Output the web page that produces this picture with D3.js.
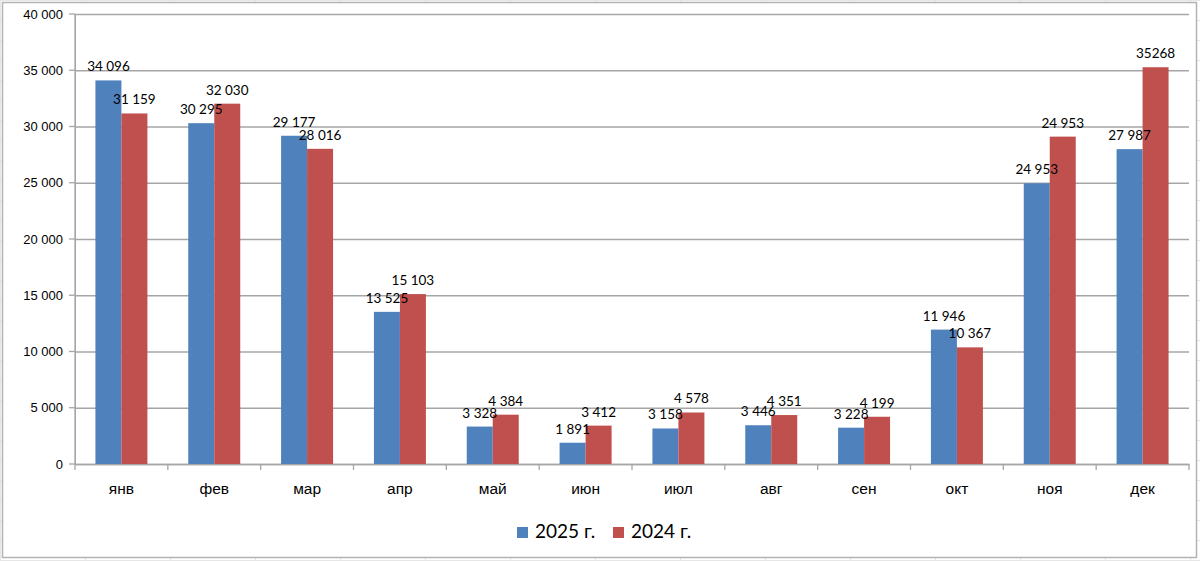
<!DOCTYPE html>
<html>
<head>
<meta charset="utf-8">
<script src="https://cdn.jsdelivr.net/npm/d3@7"></script>
<style>
  body { margin: 0; background: #fff; }
  svg { display: block; font-family: Lato, "Open Sans", sans-serif; }
  .axis path, .axis line { stroke: #a6a6a6; }
  .axis text { fill: #000; font-size: 13px; }
</style>
</head>
<body>
<div id="chart"></div>
<script>
// data
var months = ["янв","фев","мар","апр","май","июн","июл","авг","сен","окт","ноя","дек"];
var series = ["2025 г.", "2024 г."];
var v2025 = [34096, 30295, 29177, 13525, 3328, 1891, 3158, 3446, 3228, 11946, 24953, 27987];
var v2024 = [31159, 32030, 28016, 15103, 4384, 3412, 4578, 4351, 4199, 10367, 29100, 35268];
// data labels as printed on the chart
var lab2025 = ["34 096","30 295","29 177","13 525","3 328","1 891","3 158","3 446","3 228","11 946","24 953","27 987"];
var lab2024 = ["31 159","32 030","28 016","15 103","4 384","3 412","4 578","4 351","4 199","10 367","24 953","35268"];
var yTicks = [0, 5000, 10000, 15000, 20000, 25000, 30000, 35000, 40000];
var colors = ["#4f81bd", "#c0504d"];

var W = 1200, H = 561;
var margin = {t: 14, r: 11, b: 97, l: 75};
var width = W - margin.l - margin.r,
    height = H - margin.t - margin.b;

var svg = d3.select('#chart').append('svg')
    .attr('width', W).attr('height', H);

// faint spreadsheet grid behind the chart
var bg = svg.append('g').attr('stroke', '#e6e6e6').attr('stroke-width', 1);
d3.range(0, W, 85).forEach(function(x){
  bg.append('line').attr('x1', x + 0.5).attr('x2', x + 0.5).attr('y1', 0).attr('y2', H);
});
d3.range(0, H, 20).forEach(function(y){
  bg.append('line').attr('x1', 0).attr('x2', W).attr('y1', y + 0.5).attr('y2', y + 0.5);
});

// chart area frame
svg.append('rect').attr('x', 2.5).attr('y', 2.5).attr('width', 1194).attr('height', 555)
    .attr('fill', '#fff').attr('stroke', '#b3b3b3').attr('stroke-width', 1.5);

var g = svg.append('g').attr('transform', 'translate(' + margin.l + ',' + margin.t + ')');

var x0 = d3.scaleBand().domain(months).range([0, width]).paddingInner(0).paddingOuter(0);
var pairW = x0.bandwidth() * 0.56;
var x1 = d3.scaleBand().domain([0, 1]).range([0, pairW]);
var y = d3.scaleLinear().domain([0, 40000]).range([height, 0]);

var fmt = function(d){ return d3.format(',')(d).replace(/,/g, ' '); };

// gridlines + y axis
var yAxis = d3.axisLeft(y).tickValues(yTicks).tickFormat(fmt)
    .tickSizeInner(-width).tickSizeOuter(0).tickPadding(12);
g.append('g').attr('class', 'axis axis-y').call(yAxis)
    .call(function(s){ s.selectAll('.tick line').attr('stroke', '#a6a6a6').attr('stroke-width', 1.3); });
// small outer ticks on the left of the axis
g.append('g').selectAll('line').data(yTicks).enter().append('line')
    .attr('x1', -6).attr('x2', 0)
    .attr('y1', function(d){ return y(d); }).attr('y2', function(d){ return y(d); })
    .attr('stroke', '#a6a6a6').attr('stroke-width', 1.3);
g.append('line').attr('x1', 0).attr('x2', 0).attr('y1', 0).attr('y2', height)
    .attr('stroke', '#a6a6a6').attr('stroke-width', 1.3);

// x axis
var xAxis = d3.axisBottom(x0).tickSize(0).tickPadding(19);
var xg = g.append('g').attr('class', 'axis axis-x').attr('transform', 'translate(0,' + height + ')').call(xAxis);
xg.select('.domain').attr('stroke-width', 1.3);
xg.selectAll('text').style('font-size', '15.5px');
xg.selectAll('.boundary').data(d3.range(months.length + 1)).enter().append('line')
    .attr('class', 'boundary')
    .attr('x1', function(i){ return i * x0.step(); }).attr('x2', function(i){ return i * x0.step(); })
    .attr('y1', 0).attr('y2', 6).attr('stroke', '#a6a6a6').attr('stroke-width', 1.3);

// bars
var rows = months.map(function(m, i){
  return {m: m, vals: [v2025[i], v2024[i]], labs: [lab2025[i], lab2024[i]]};
});
var groups = g.append('g').selectAll('.grp').data(rows).enter().append('g')
    .attr('transform', function(d){ return 'translate(' + (x0(d.m) + (x0.bandwidth() - pairW) / 2) + ',0)'; });

groups.selectAll('rect').data(function(d){ return d.vals; }).enter().append('rect')
    .attr('x', function(d, i){ return x1(i); })
    .attr('y', function(d){ return y(d); })
    .attr('width', x1.bandwidth())
    .attr('height', function(d){ return height - y(d); })
    .attr('fill', function(d, i){ return colors[i]; });

groups.selectAll('text').data(function(d){ return d.vals.map(function(v, i){ return {v: v, t: d.labs[i], i: i}; }); })
    .enter().append('text')
    .attr('x', function(d){ return x1(d.i) + x1.bandwidth() / 2; })
    .attr('y', function(d){ return y(d.v) - 9; })
    .attr('text-anchor', 'middle')
    .attr('font-size', 13.5)
    .text(function(d){ return d.t; });

// legend
var legend = svg.append('g').attr('transform', 'translate(517,527)');
var legX = [0, 96];
series.forEach(function(s, i){
  var lg = legend.append('g').attr('transform', 'translate(' + legX[i] + ',0)');
  lg.append('rect').attr('width', 11).attr('height', 11).attr('fill', colors[i]);
  lg.append('text').attr('x', 18).attr('y', 11).attr('font-size', 19).text(s);
});
</script>
</body>
</html>
